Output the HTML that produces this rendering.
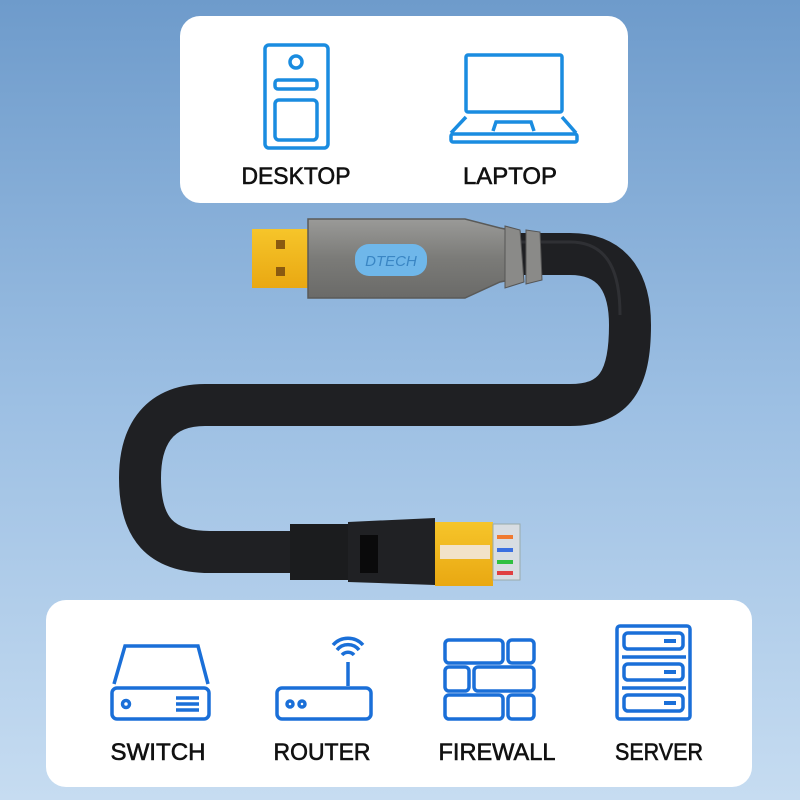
<!DOCTYPE html>
<html><head><meta charset="utf-8"><style>
html,body{margin:0;padding:0;width:800px;height:800px;overflow:hidden}
</style></head><body>
<svg width="800" height="800" viewBox="0 0 800 800" xmlns="http://www.w3.org/2000/svg" font-family="Liberation Sans, sans-serif">
<defs>
<linearGradient id="bg" x1="0" y1="0" x2="0" y2="1">
<stop offset="0" stop-color="#6e9bcb"/><stop offset="0.5" stop-color="#9cbfe3"/><stop offset="1" stop-color="#c6dcf1"/>
</linearGradient>
<linearGradient id="gold" x1="0" y1="0" x2="0" y2="1"><stop offset="0" stop-color="#f6c52a"/><stop offset="1" stop-color="#e9a812"/></linearGradient>
<linearGradient id="house" x1="0" y1="0" x2="0" y2="1"><stop offset="0" stop-color="#9a9a98"/><stop offset="0.5" stop-color="#7b7b78"/><stop offset="1" stop-color="#6a6a68"/></linearGradient>
</defs>
<rect width="800" height="800" fill="url(#bg)"/>
<!-- top panel -->
<rect x="180" y="16" width="448" height="187" rx="20" fill="#fff"/>
<g fill="none" stroke="#1a8ce0" stroke-width="3.5">
<rect x="265" y="45" width="63" height="103" rx="4"/>
<circle cx="296" cy="62" r="6"/>
<rect x="275" y="80" width="42" height="9" rx="3"/>
<rect x="275" y="100" width="42" height="40" rx="4"/>
<rect x="466" y="55" width="96" height="57" rx="2"/>
<path d="M466 117 L451 133 M562 117 L576 133 M493 131 L496 122 L531 122 L534 131"/>
<rect x="451" y="134" width="126" height="8" rx="2"/>
</g>
<g font-size="24" fill="#111" stroke="#111" stroke-width="0.6" text-anchor="middle">
<text x="296" y="184" textLength="109" lengthAdjust="spacingAndGlyphs">DESKTOP</text>
<text x="510" y="184" textLength="94" lengthAdjust="spacingAndGlyphs">LAPTOP</text>
</g>
<!-- cable -->
<path d="M520 254 L570 254 C615 254 630 285 630 325 C630 380 615 405 570 405 L205 405 C155 405 140 440 140 478 C140 528 160 552 210 552 L300 552" fill="none" stroke="#1f2023" stroke-width="42"/>
<path d="M520 242 L570 242 C610 242 620 275 620 315" fill="none" stroke="#3a3c40" stroke-width="3" opacity="0.6"/>
<!-- USB -->
<rect x="252" y="229" width="58" height="59" fill="url(#gold)"/>
<rect x="276" y="240" width="9" height="9" fill="#8a5a10"/><rect x="276" y="267" width="9" height="9" fill="#8a5a10"/>
<path d="M308 219 L465 219 L500 228 L520 232 L520 278 L500 282 L465 298 L308 298 Z" fill="url(#house)" stroke="#5a5a58" stroke-width="1.5"/>
<rect x="355" y="244" width="72" height="32" rx="14" fill="#6fb7ea"/>
<text x="391" y="266" font-size="15" font-style="italic" fill="#3a86c4" text-anchor="middle">DTECH</text>
<g fill="#8a8a88" stroke="#555" stroke-width="1">
<path d="M505 226 L520 230 L524 282 L505 288 Z"/><path d="M526 230 L540 232 L542 280 L526 284 Z"/>
</g>
<!-- RJ45 -->
<rect x="290" y="524" width="58" height="56" fill="#1b1c1e"/>
<path d="M348 522 L435 518 L435 585 L348 582 Z" fill="#202124"/>
<rect x="360" y="535" width="18" height="38" fill="#0a0a0b"/>
<rect x="435" y="522" width="58" height="64" fill="url(#gold)"/>
<rect x="440" y="545" width="50" height="14" fill="#f2e2c8"/>
<rect x="493" y="524" width="27" height="56" fill="#d8dde2" stroke="#9aa" stroke-width="1"/>
<rect x="497" y="535" width="16" height="4" fill="#f07a30"/><rect x="497" y="548" width="16" height="4" fill="#3a6fe0"/><rect x="497" y="560" width="16" height="4" fill="#30c040"/><rect x="497" y="571" width="16" height="4" fill="#e04040"/>
<!-- bottom panel -->
<rect x="46" y="600" width="706" height="187" rx="20" fill="#fff"/>
<g fill="none" stroke="#1a6fd8" stroke-width="3.5">
<path d="M114 684 L125 646 L198 646 L208 684"/>
<rect x="112" y="688" width="97" height="31" rx="5"/>
<circle cx="126" cy="704" r="3.5"/>
<path d="M176 698 H199 M176 704 H199 M176 710 H199"/>
<rect x="277" y="688" width="94" height="31" rx="5"/>
<circle cx="290" cy="704" r="3"/><circle cx="302" cy="704" r="3"/>
<path d="M348 686 V662"/>
<path d="M342 655 A8 8 0 0 1 354 655 M337 650 A14 14 0 0 1 359 650 M333 645 A20 20 0 0 1 363 645"/>
<rect x="445" y="640" width="58" height="23" rx="4"/><rect x="508" y="640" width="26" height="23" rx="4"/>
<rect x="445" y="667" width="24" height="24" rx="4"/><rect x="474" y="667" width="60" height="24" rx="4"/>
<rect x="445" y="695" width="58" height="24" rx="4"/><rect x="508" y="695" width="26" height="24" rx="4"/>
<rect x="617" y="626" width="73" height="93" rx="3"/>
<rect x="624" y="633" width="59" height="16" rx="4"/><rect x="624" y="664" width="59" height="16" rx="4"/><rect x="624" y="695" width="59" height="16" rx="4"/>
<path d="M622 657 H686 M622 688 H686"/>
</g>
<g fill="#1a6fd8"><rect x="664" y="639" width="12" height="4"/><rect x="664" y="670" width="12" height="4"/><rect x="664" y="701" width="12" height="4"/></g>
<g font-size="24" fill="#111" stroke="#111" stroke-width="0.6" text-anchor="middle">
<text x="158" y="760" textLength="95" lengthAdjust="spacingAndGlyphs">SWITCH</text>
<text x="322" y="760" textLength="97" lengthAdjust="spacingAndGlyphs">ROUTER</text>
<text x="497" y="760" textLength="117" lengthAdjust="spacingAndGlyphs">FIREWALL</text>
<text x="659" y="760" textLength="88" lengthAdjust="spacingAndGlyphs">SERVER</text>
</g>
</svg>
</body></html>
